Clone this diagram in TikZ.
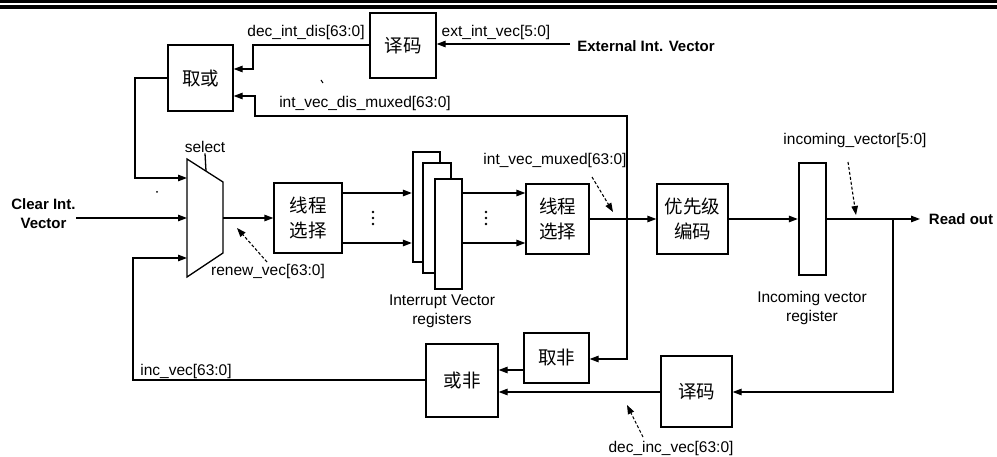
\documentclass[tikz,border=0pt]{standalone}
\usepackage{fontspec}
\setmainfont{Liberation Sans}
\newfontfamily\cjk{Noto Sans CJK SC}
\usetikzlibrary{arrows.meta}
\begin{document}
\begin{tikzpicture}[x=1pt,y=-1pt,
  line width=1.3pt,
  arr/.style={-{Triangle[length=9pt,width=6.5pt]}},
  blk/.style={draw, line width=1.3pt, rectangle, inner sep=0pt, font=\cjk\fontsize{18.5}{25}\selectfont, align=center},
  lbl/.style={inner sep=0pt, font=\fontsize{15.5}{19}\selectfont, align=center},
  blbl/.style={inner sep=0pt, font=\bfseries\fontsize{15}{19}\selectfont, align=center},
  darr/.style={arr, dash pattern=on 3pt off 2pt, line width=1.1pt},
  reg/.style={draw, fill=white, line width=2.3pt, rectangle, inner sep=0pt}]
\useasboundingbox (0,0) rectangle (997,457);
% top rules
\fill (0,0) rectangle (997,3);
\fill (0,5.5) rectangle (997,9.5);

% blocks
\node[blk, minimum width=66pt, minimum height=65pt] (decT) at (403,45.5) {译码};
\node[blk, minimum width=65pt, minimum height=66pt] (qh) at (200.5,78) {取或};
\node[blk, minimum width=68pt, minimum height=70pt] (b1) at (308,218) {线程\\选择};
\node[blk, minimum width=63pt, minimum height=70pt] (b2) at (557.5,219) {线程\\选择};
\node[blk, minimum width=71pt, minimum height=70pt] (pe) at (692.5,219) {优先级\\编码};
\node[reg, minimum width=27pt, minimum height=112pt] (inreg) at (812.5,219) {};
\node[blk, minimum width=65pt, minimum height=50pt] (qf) at (556.5,358) {取非};
\node[blk, minimum width=72pt, minimum height=73pt] (hf) at (462,380.5) {或非};
\node[blk, minimum width=71pt, minimum height=71pt] (decB) at (696.5,391.5) {译码};

% interrupt vector registers
\node[reg, minimum width=27pt, minimum height=110pt] (r1) at (426.5,207) {};
\node[reg, minimum width=28pt, minimum height=110pt] (r2) at (437,218) {};
\node[reg, minimum width=27pt, minimum height=110pt] (r3) at (448.5,234) {};

% mux
\draw[line width=1.3pt] (187,159) -- (223,182) -- (223,253) -- (187,277) -- cycle;
\coordinate (m1) at (187,178);
\coordinate (m2) at (187,218);
\coordinate (m3) at (187,258);
\coordinate (mo) at (223,218);
\coordinate (sel) at (206,171);
\node[lbl] (sell) at (205,147) {select};
\draw (sel) -- (sell.south);

% labels
\node[blbl] (ext) at (646,46) {External Int. Vector};
\node[lbl] (extl) at (496,32) {ext\_int\_vec[5:0]};
\node[lbl] (didl) at (306,32) {dec\_int\_dis[63:0]};
\node[lbl] (ivdm) at (365,103) {int\_vec\_dis\_muxed[63:0]};
\node[blbl] (clr) at (43.5,213.5) {Clear Int.\\Vector};
\node[lbl] (incv) at (186,371) {inc\_vec[63:0]};
\node[lbl] (renew) at (268,271) {renew\_vec[63:0]};
\node[lbl] (ivr) at (442,311) {Interrupt Vector\\registers};
\node[lbl] (ivm) at (555,160) {int\_vec\_muxed[63:0]};
\node[lbl] (incom) at (855,140) {incoming\_vector[5:0]};
\node[lbl] (inr) at (812,308) {Incoming vector\\register};
\node[blbl] (rd) at (961,219) {Read out};
\node[lbl] (div) at (671,448) {dec\_inc\_vec[63:0]};

% coordinates
\coordinate (extin) at (570,44);
\coordinate (J) at (627,219);
\coordinate (B) at (893,219);
\coordinate (ro) at (920,219);

% connectors
\draw[arr] (extin) -- (extin -| decT.east);
\draw[arr] (decT.west |- 0,45) -- (253,45) -- (253,69) -- (qh.east |- 0,69);
\draw[arr] (J) -- (627,116) -- (255,116) -- (255,96) -- (qh.east |- 0,96);
\draw[arr] (qh.west |- 0,78) -- (135,78) -- (135,178) -- (m1);
\draw[arr] (clr.east |- m2) -- (m2);
\draw[arr] (hf.west |- 0,380) -- (133,380) -- (133,258) -- (m3);
\draw[arr] (mo) -- (b1.west |- mo);
\draw[arr] (b1.east |- 0,193) -- (r1.west |- 0,193);
\draw[arr] (b1.east |- 0,243) -- (r1.west |- 0,243);
\draw[arr] (r3.east |- 0,193) -- (b2.west |- 0,193);
\draw[arr] (r3.east |- 0,243) -- (b2.west |- 0,243);
\draw (b2.east |- J) -- (J);
\draw[arr] (J) -- (pe.west |- J);
\fill (J) circle (1.8pt);
\draw[arr] (J) -- (627,359) -- (qf.east |- 0,359);
\draw[arr] (pe.east |- J) -- (inreg.west |- J);
\draw[arr] (inreg.east |- J) -- (ro);
\draw[arr] (B) -- (893,392) -- (decB.east |- 0,392);
\draw[arr] (qf.west |- 0,370) -- (hf.east |- 0,370);
\draw[arr] (decB.west |- 0,392) -- (hf.east |- 0,392);

% ellipsis dots
\foreach \yy in {212,218,224} {
  \fill (373,\yy) circle (1.3pt);
  \fill (486,\yy) circle (1.3pt);
}

% dashed pointer arrows
\coordinate (p1) at (848,162); \coordinate (q1) at (856,215);
\draw[darr] (p1) -- (q1);
\coordinate (p2) at (592,177); \coordinate (q2) at (613,212);
\draw[darr] (p2) -- (q2);
\coordinate (p3) at (267,262); \coordinate (q3) at (237,228);
\draw[darr] (p3) -- (q3);
\coordinate (p4) at (643,437); \coordinate (q4) at (627,405);
\draw[darr] (p4) -- (q4);

% small marks
\draw[line width=1pt] (321,80) -- (323,83);
\fill (157,192) circle (1pt);
\end{tikzpicture}
\end{document}
